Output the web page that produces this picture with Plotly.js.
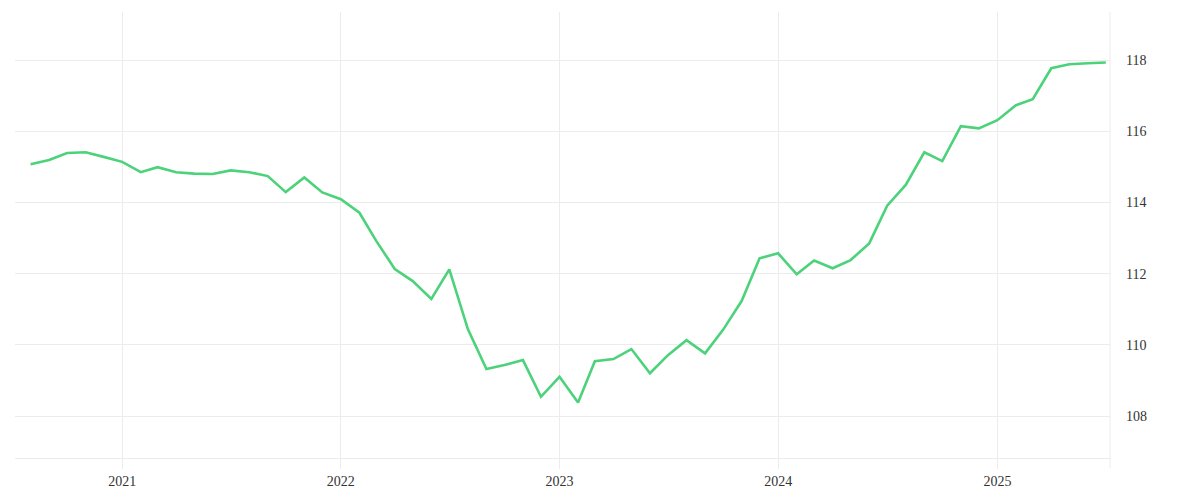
<!DOCTYPE html>
<html>
<head>
<meta charset="utf-8">
<script src="https://cdn.plot.ly/plotly-3.0.1.min.js"></script>
<style>html,body{margin:0;padding:0;background:#fff;}#chart{width:1200px;height:500px;}</style>
</head>
<body>
<div id="chart"></div>
<script>
const months = [
  "2020-08-01","2020-09-01","2020-10-01","2020-11-01","2020-12-01",
  "2021-01-01","2021-02-01","2021-03-01","2021-04-01","2021-05-01","2021-06-01",
  "2021-07-01","2021-08-01","2021-09-01","2021-10-01","2021-11-01","2021-12-01",
  "2022-01-01","2022-02-01","2022-03-01","2022-04-01","2022-05-01","2022-06-01",
  "2022-07-01","2022-08-01","2022-09-01","2022-10-01","2022-11-01","2022-12-01",
  "2023-01-01","2023-02-01","2023-03-01","2023-04-01","2023-05-01","2023-06-01",
  "2023-07-01","2023-08-01","2023-09-01","2023-10-01","2023-11-01","2023-12-01",
  "2024-01-01","2024-02-01","2024-03-01","2024-04-01","2024-05-01","2024-06-01",
  "2024-07-01","2024-08-01","2024-09-01","2024-10-01","2024-11-01","2024-12-01",
  "2025-01-01","2025-02-01","2025-03-01","2025-04-01","2025-05-01","2025-06-01",
  "2025-07-01"
];
const values = [
  115.07,115.19,115.39,115.41,115.28,
  115.14,114.85,114.99,114.85,114.81,114.80,
  114.90,114.85,114.74,114.29,114.70,114.28,
  114.09,113.71,112.92,112.13,111.79,111.29,
  112.12,110.44,109.32,109.43,109.57,108.54,
  109.10,108.38,109.54,109.60,109.88,109.20,
  109.71,110.13,109.76,110.42,111.23,112.43,
  112.57,111.98,112.37,112.15,112.38,112.85,
  113.91,114.49,115.41,115.16,116.14,116.08,
  116.31,116.73,116.90,117.77,117.88,117.91,
  117.93
];
const xRange = ["2020-07-06","2025-07-08"];
const yRange = [106.82, 119.35];

const fontFam = "'Liberation Serif', 'DejaVu Serif', serif";
const grid = "#ececec";

Plotly.newPlot("chart", [{
  x: months,
  y: values,
  type: "scatter",
  mode: "lines",
  line: {color: "rgb(76,210,122)", width: 2.6},
  hoverinfo: "x+y"
}], {
  width: 1200, height: 500,
  margin: {l: 15, r: 90, t: 12, b: 42},
  paper_bgcolor: "#ffffff",
  plot_bgcolor: "#ffffff",
  showlegend: false,
  xaxis: {
    type: "date",
    range: xRange,
    tick0: "2021-01-01",
    dtick: "M12",
    tickformat: "%Y",
    showgrid: true,
    gridcolor: grid,
    gridwidth: 1,
    showline: true,
    linecolor: grid,
    linewidth: 1,
    ticks: "outside",
    ticklen: 10,
    tickcolor: grid,
    tickwidth: 1,
    zeroline: false,
    tickfont: {family: fontFam, size: 14, color: "#333"}
  },
  yaxis: {
    side: "right",
    range: yRange,
    dtick: 2,
    tick0: 108,
    showgrid: true,
    gridcolor: grid,
    gridwidth: 1,
    showline: false,
    zeroline: false,
    ticks: "",
    ticklabelstandoff: 15,
    tickfont: {family: fontFam, size: 14, color: "#333"}
  },
  shapes: [{
    type: "line", xref: "paper", yref: "paper",
    x0: 1, x1: 1, y0: -0.023, y1: 1,
    line: {color: grid, width: 1}
  }]
}, {displayModeBar: false, staticPlot: true});
</script>
</body>
</html>
